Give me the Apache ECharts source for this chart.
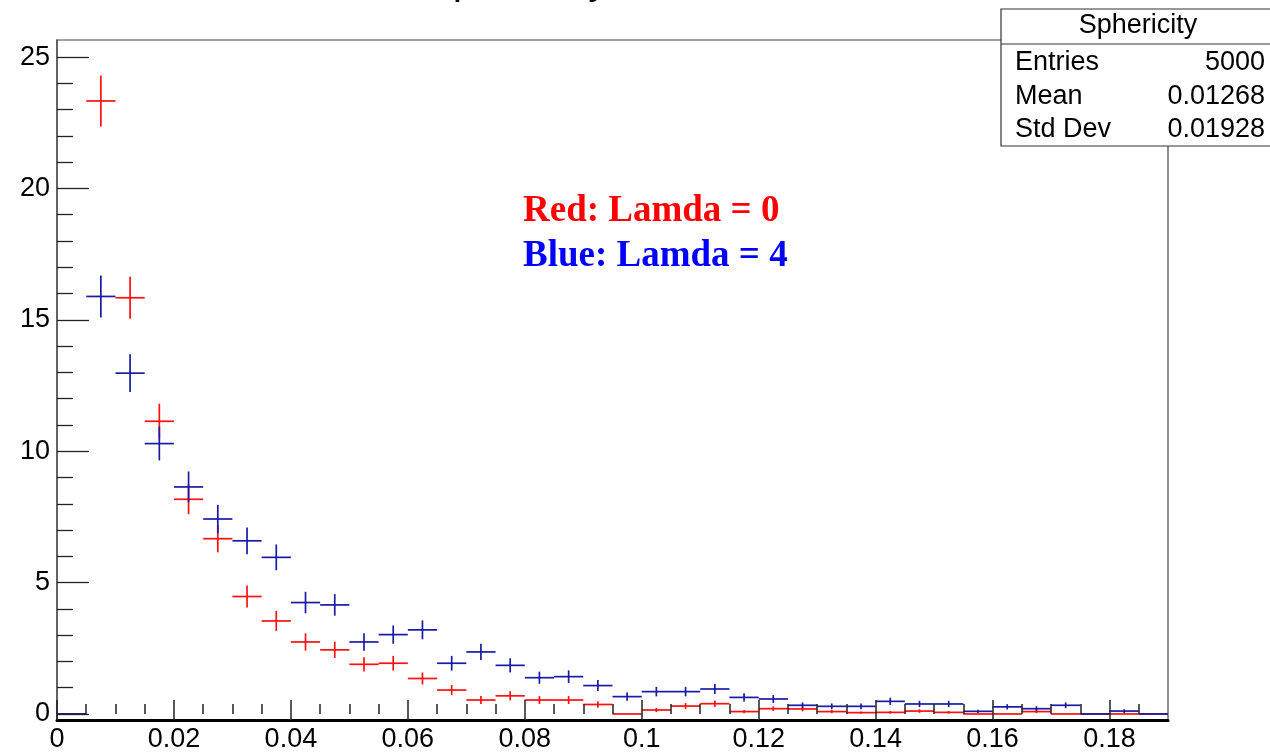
<!DOCTYPE html>
<html>
<head>
<meta charset="utf-8">
<script src="https://cdn.jsdelivr.net/npm/echarts@6/dist/echarts.min.js"></script>
<style>
  html, body { margin: 0; padding: 0; background: #fff; }
  #chart { width: 1270px; height: 753px; }
</style>
</head>
<body>
<div id="chart"></div>
<script>
// histogram binning
var binStart = 0;
var binWidth = 0.005;

// Red: Lamda = 0
var redValues = [0, 23.33, 15.84, 11.14, 8.17, 6.67, 4.47, 3.54, 2.74, 2.44, 1.89, 1.93, 1.35, 0.91, 0.53, 0.69, 0.53, 0.53, 0.36, 0,
  0.15, 0.30, 0.39, 0.09, 0.20, 0.19, 0.09, 0.05, 0.06, 0.11, 0.06, 0, 0, 0.09, 0, 0, 0, 0];
var redErrors = [0, 0.97, 0.80, 0.67, 0.57, 0.52, 0.42, 0.38, 0.33, 0.31, 0.27, 0.28, 0.23, 0.19, 0.15, 0.17, 0.15, 0.15, 0.12, 0,
  0.08, 0.11, 0.12, 0.06, 0.09, 0.09, 0.06, 0.04, 0.05, 0.07, 0.05, 0, 0, 0.06, 0, 0, 0, 0];

// Blue: Lamda = 4
var blueValues = [0, 15.89, 12.97, 10.29, 8.64, 7.42, 6.59, 5.96, 4.24, 4.15, 2.74, 3.02, 3.20, 1.93, 2.36, 1.85, 1.38, 1.42, 1.08, 0.66,
  0.85, 0.85, 0.95, 0.63, 0.57, 0.33, 0.29, 0.29, 0.48, 0.38, 0.38, 0.10, 0.27, 0.20, 0.33, 0, 0.11, 0];
var blueErrors = [0, 0.80, 0.72, 0.64, 0.59, 0.54, 0.51, 0.49, 0.41, 0.41, 0.33, 0.35, 0.36, 0.28, 0.31, 0.27, 0.23, 0.24, 0.21, 0.16,
  0.18, 0.18, 0.19, 0.16, 0.15, 0.11, 0.11, 0.11, 0.14, 0.12, 0.12, 0.06, 0.10, 0.09, 0.11, 0, 0.07, 0];

// axis ticks
var xMajorTicks = [0, 0.02, 0.04, 0.06, 0.08, 0.1, 0.12, 0.14, 0.16, 0.18];
var xMinorTicks = [0.005, 0.01, 0.015, 0.025, 0.03, 0.035, 0.045, 0.05, 0.055, 0.065, 0.07, 0.075,
  0.085, 0.09, 0.095, 0.105, 0.11, 0.115, 0.125, 0.13, 0.135, 0.145, 0.15, 0.155, 0.165, 0.17, 0.175, 0.185];
var yMajorTicks = [0, 5, 10, 15, 20, 25];
var yMinorTicks = [1, 2, 3, 4, 6, 7, 8, 9, 11, 12, 13, 14, 16, 17, 18, 19, 21, 22, 23, 24];

// stats box
var statsTitle = 'Sphericity';
var statsRows = [['Entries', '5000'], ['Mean', '0.01268'], ['Std Dev', '0.01928']];

function toData(values, errors) {
  return values.map(function (v, i) {
    return [binStart + (i + 0.5) * binWidth, v, errors[i]];
  });
}

function crossRenderer(color) {
  return function (params, api) {
    var x = api.value(0), y = api.value(1), e = api.value(2);
    var lo = api.coord([x - binWidth / 2, y]);
    var hi = api.coord([x + binWidth / 2, y]);
    var top = api.coord([x, y + e]);
    var bot = api.coord([x, y - e]);
    var st = { stroke: color, lineWidth: 1.7 };
    var children = [{ type: 'line', shape: { x1: lo[0], y1: lo[1], x2: hi[0], y2: hi[1] }, style: st }];
    if (e > 0) {
      children.push({ type: 'line', shape: { x1: top[0], y1: top[1], x2: bot[0], y2: bot[1] }, style: st });
    }
    return { type: 'group', children: children };
  };
}

var sans = '"Liberation Sans", Arial, Helvetica, sans-serif';
var serif = '"Liberation Serif", "Times New Roman", serif';

var statsGraphics = [
  { type: 'rect', shape: { x: 1001, y: 9, width: 300, height: 137 }, style: { fill: '#fff', stroke: '#333', lineWidth: 1.2 } },
  { type: 'line', shape: { x1: 1001, y1: 44, x2: 1270, y2: 44 }, style: { stroke: '#333', lineWidth: 1.2 } },
  { type: 'text', x: 1138, y: 26, style: { text: statsTitle, font: '27px ' + sans, fill: '#000', align: 'center', verticalAlign: 'middle' } }
];
statsRows.forEach(function (row, i) {
  var yy = 63 + i * 33.5;
  statsGraphics.push({ type: 'text', x: 1015, y: yy, style: { text: row[0], font: '27px ' + sans, fill: '#000', align: 'left', verticalAlign: 'middle' } });
  statsGraphics.push({ type: 'text', x: 1265, y: yy, style: { text: row[1], font: '27px ' + sans, fill: '#000', align: 'right', verticalAlign: 'middle' } });
});

var chart = echarts.init(document.getElementById('chart'));
chart.setOption({
  animation: false,
  backgroundColor: '#fff',
  grid: {
    left: 57, right: 102, top: 40, bottom: 33,
    show: true, borderColor: '#444', borderWidth: 1.2, backgroundColor: 'transparent'
  },
  xAxis: [{
    type: 'value', min: 0, max: 0.19, z: 10,
    axisLine: { show: true, onZero: false, lineStyle: { color: '#000', width: 3 } },
    axisTick: { show: true, inside: true, length: 20, customValues: xMajorTicks, lineStyle: { color: '#222', width: 1.5 } },
    axisLabel: { customValues: xMajorTicks, color: '#000', fontSize: 27, fontFamily: sans, margin: 6 },
    splitLine: { show: false }
  }, {
    type: 'value', min: 0, max: 0.19, position: 'bottom', z: 10,
    axisLine: { show: false },
    axisTick: { show: true, inside: true, length: 10, customValues: xMinorTicks, lineStyle: { color: '#222', width: 1.5 } },
    axisLabel: { show: false },
    splitLine: { show: false }
  }],
  yAxis: [{
    type: 'value', min: -0.23, max: 25.65, z: 10,
    axisLine: { show: true, onZero: false, lineStyle: { color: '#555', width: 1.5 } },
    axisTick: { show: true, inside: true, length: 32, customValues: yMajorTicks, lineStyle: { color: '#222', width: 1.3 } },
    axisLabel: { customValues: yMajorTicks, color: '#000', fontSize: 27, fontFamily: sans, margin: 7 },
    splitLine: { show: false }
  }, {
    type: 'value', min: -0.23, max: 25.65, position: 'left', z: 10,
    axisLine: { show: false },
    axisTick: { show: true, inside: true, length: 16, customValues: yMinorTicks, lineStyle: { color: '#222', width: 1.3 } },
    axisLabel: { show: false },
    splitLine: { show: false }
  }],
  series: [{
    name: 'Red: Lamda = 0',
    type: 'custom',
    xAxisIndex: 0, yAxisIndex: 0,
    clip: true, z: 2,
    renderItem: crossRenderer('#ff1010'),
    data: toData(redValues, redErrors)
  }, {
    name: 'Blue: Lamda = 4',
    type: 'custom',
    xAxisIndex: 0, yAxisIndex: 0,
    clip: true, z: 2,
    renderItem: crossRenderer('#1a1aa6'),
    data: toData(blueValues, blueErrors)
  }],
  graphic: [
    { type: 'text', x: 517, y: -19, z: 50, style: { text: 'Sphericity', font: '42px ' + sans, fill: '#000', align: 'center', verticalAlign: 'middle' } },
    { type: 'text', x: 523, y: 211, z: 50, style: { text: 'Red: Lamda = 0', font: 'bold 37px ' + serif, fill: '#ff0000', align: 'left', verticalAlign: 'middle' } },
    { type: 'text', x: 523, y: 256, z: 50, style: { text: 'Blue: Lamda = 4', font: 'bold 37px ' + serif, fill: '#0000ff', align: 'left', verticalAlign: 'middle' } },
    { type: 'group', z: 100, children: statsGraphics }
  ]
});
</script>
</body>
</html>
